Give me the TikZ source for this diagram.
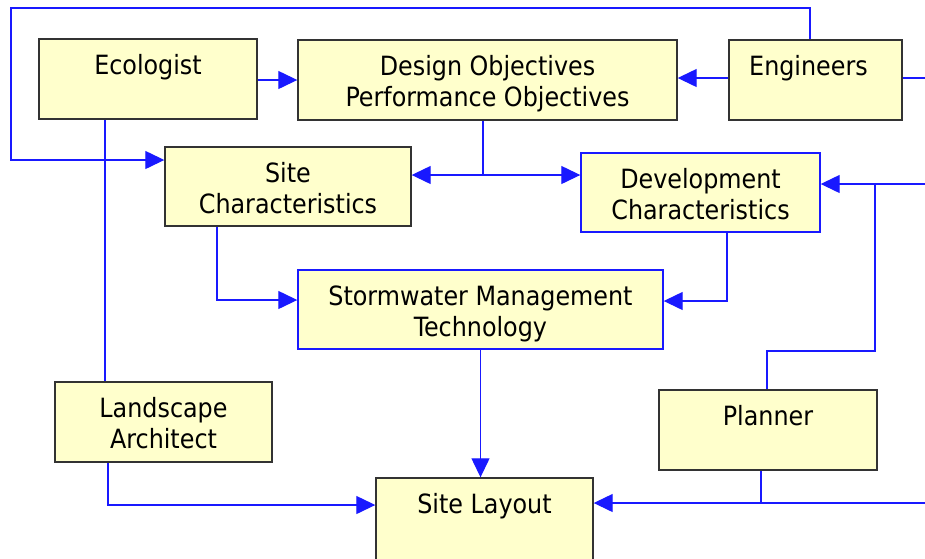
\documentclass[tikz,border=0pt]{standalone}
\usepackage{fontspec}
\setmainfont{DejaVu Sans Condensed}
\usetikzlibrary{arrows.meta}
\definecolor{boxfill}{RGB}{255,255,204}
\definecolor{boxedge}{RGB}{51,51,51}
\definecolor{linkblue}{RGB}{25,25,255}
\tikzset{
  box/.style={draw=boxedge, line width=1.4pt, fill=boxfill, rectangle, inner sep=0pt},
  bluebox/.style={box, draw=linkblue},
  txt/.style={anchor=north, align=center, inner sep=0pt, font=\fontsize{26.5}{31}\selectfont},
  link/.style={draw=linkblue, line width=1.3pt},
  conn/.style={link, -{Triangle[length=19pt, width=18pt]}},
}
\newcommand{\mkbox}[7]{% style, name, x1, y1, x2, y2, text
  \node[#1, minimum width={(#5-#3)*1pt}, minimum height={(#6-#4)*1pt}] (#2) at ({(#3+#5)/2},{(#4+#6)/2}) {};
  \node[txt] (#2t) at ([yshift=-14.5pt]#2.north) {\rule{0pt}{21pt}#7};
}
\begin{document}
\begin{tikzpicture}[x=1pt, y=-1pt]
\useasboundingbox (0,0) rectangle (925,558);
\fill[white] (0,0) rectangle (925,558);

\mkbox{box}{eco}{39}{39}{257}{119}{Ecologist}
\mkbox{box}{des}{298}{40}{677}{120}{Design Objectives\\Performance Objectives}
\mkbox{box}{eng}{729}{40}{902}{120}{Engineers\hspace*{14pt}}
\mkbox{box}{site}{165}{147}{411}{226}{Site\\Characteristics}
\mkbox{bluebox}{dev}{581}{153}{820}{232}{Development\\Characteristics}
\mkbox{bluebox}{storm}{298}{270}{663}{349}{Stormwater Management\\Technology}
\mkbox{box}{la}{55}{382}{272}{462}{Landscape\\Architect}
\mkbox{box}{plan}{659}{390}{877}{470}{Planner}
\mkbox{box}{lay}{376}{478}{593}{562}{Site Layout}

% named coordinates for free ends and junctions
\coordinate (topR) at (810,8);
\coordinate (topL) at (11,8);
\coordinate (engR) at (925,78);
\coordinate (jdes) at (483,175);
\coordinate (devIn) at (925,184);
\coordinate (jdev) at (875,184);
\coordinate (jplan) at (875,351);
\coordinate (layIn) at (925,503);
\coordinate (jlay) at (761,503);

% top loop: Engineers -> Site Characteristics
\draw[conn] ([xshift=-5.5pt]eng.north) -- ([xshift=-5.5pt]eng.north |- topR) -- (topL) |- ([yshift=26.5pt]site.west);
% Ecologist -> Design
\draw[conn] ([yshift=-1pt]eco.east) -- ([yshift=-1pt]eco.east -| des.west);
% Engineers -> Design
\draw[conn] ([yshift=2pt]eng.west) -- ([yshift=2pt]eng.west -| des.east);
% Engineers to right edge
\draw[link] ([yshift=2pt]eng.east) -- (engR);
% Ecologist -- Landscape Architect
\draw[link] ([xshift=-43pt]eco.south) -- ([xshift=-43pt]eco.south |- la.north);
% Design -> Site / Development
\draw[link] (des.south -| jdes) -- (jdes);
\draw[conn] (jdes) -- (jdes -| site.east);
\draw[conn] (jdes) -- (jdes -| dev.west);
% Development -> Stormwater
\draw[conn] ([xshift=26.5pt]dev.south) |- ([yshift=8.5pt]storm.east);
% Site -> Stormwater
\draw[conn] ([xshift=-71pt]site.south) |- ([yshift=9.5pt]storm.west);
% Stormwater -> Site Layout
\draw[conn] (storm.south) -- (storm.south |- lay.north);
% Landscape Architect -> Site Layout
\draw[conn] ([xshift=-55.5pt]la.south) |- ([yshift=15pt]lay.west);
% right edge -> Development, Planner branch
\draw[conn] (devIn) -- (devIn -| dev.east);
\draw[link] (jdev) -- (jplan) -| ([xshift=-1pt]plan.north);
% right edge -> Site Layout, Planner branch
\draw[conn] (layIn) -- (layIn -| lay.east);
\draw[link] (plan.south -| jlay) -- (jlay);
\end{tikzpicture}
\end{document}
